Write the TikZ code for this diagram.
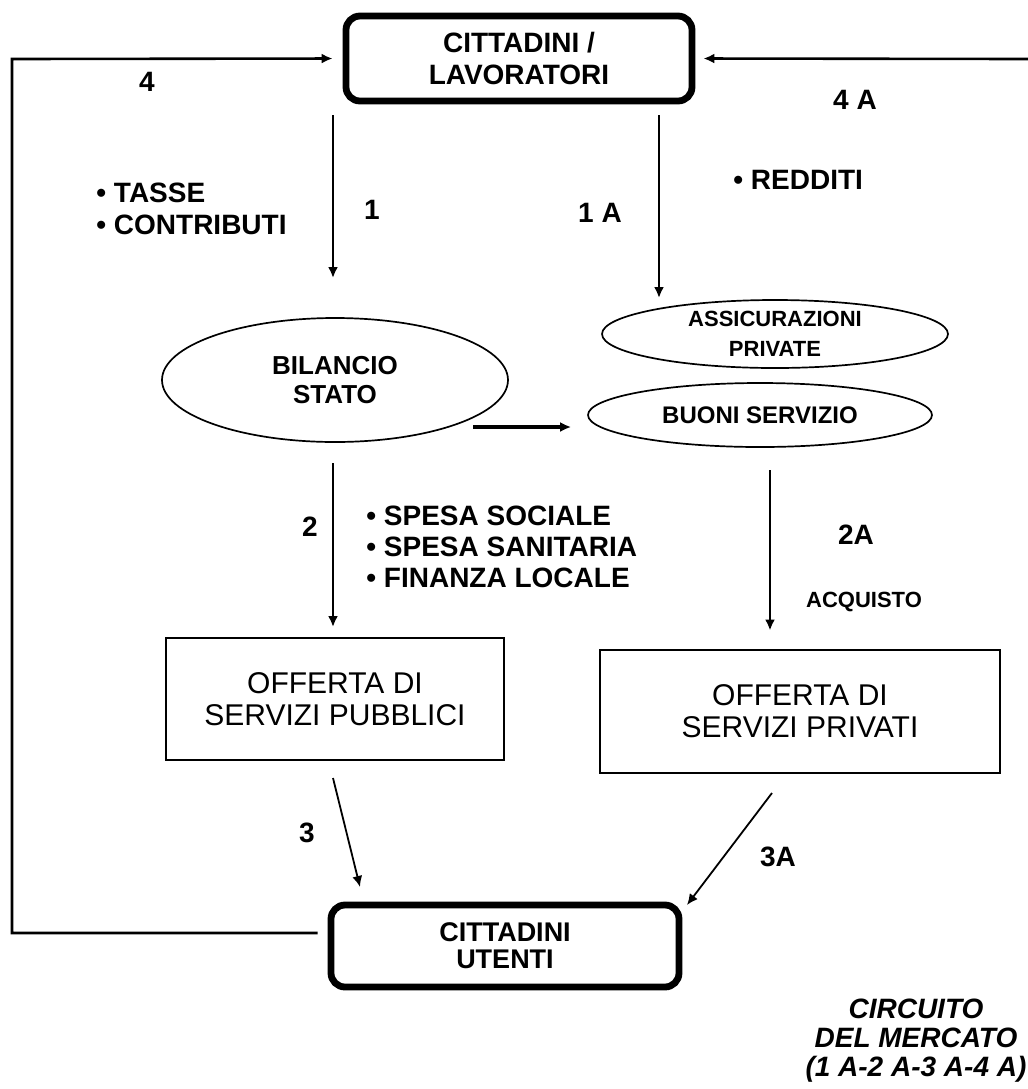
\documentclass[tikz,border=0pt]{standalone}
\usepackage{fontspec}
\setmainfont{Liberation Sans}
\usetikzlibrary{arrows.meta,positioning,shapes.geometric}

\begin{document}
\begin{tikzpicture}[x=0.5pt, y=-0.5pt,
  every node/.style={font=\bfseries\fontsize{14}{15.5}\selectfont, inner sep=0pt},
  arr/.style={-{Latex[length=5.5pt,width=5pt]}, line width=1.3pt},
  mainbox/.style={draw, line width=3.4pt, rounded corners=7pt, align=center},
  offbox/.style={draw, line width=1pt, align=center, font=\fontsize{15}{16}\selectfont},
  fund/.style={draw, ellipse, line width=0.85pt, align=center}]
\useasboundingbox (0,0) rectangle (1028,1089);

% soggetti
\node[mainbox, minimum width=173pt, minimum height=42.5pt, font=\bfseries\fontsize{14}{15.75}\selectfont] (lav) at (519,58.5) {CITTADINI /\\LAVORATORI};
\node[mainbox, minimum width=174pt, minimum height=41pt, font=\bfseries\fontsize{13.5}{13.5}\selectfont] (ute) at (505,946) {CITTADINI\\UTENTI};

% fondi
\node[fund, minimum width=173pt, minimum height=62pt, font=\bfseries\fontsize{13}{14.5}\selectfont] (bil) at (335,380) {BILANCIO\\STATO};
\node[fund, minimum width=173pt, minimum height=34pt, font=\bfseries\fontsize{11}{15}\selectfont] (ass) at (775,334) {ASSICURAZIONI\\PRIVATE};
\node[fund, minimum width=172pt, minimum height=32pt, font=\bfseries\fontsize{12}{15}\selectfont] (buo) at (760,415) {BUONI SERVIZIO};

% offerta
\node[offbox, minimum width=169pt, minimum height=61pt] (pub) at (335,699) {OFFERTA DI\\SERVIZI PUBBLICI};
\node[offbox, minimum width=200pt, minimum height=61.5pt] (pri) at (800,711) {OFFERTA DI\\SERVIZI PRIVATI};

% punti liberi
\coordinate (lpL) at (12,59);
\coordinate (lpR) at (1028,59);
\coordinate (a1s) at (333,115);
\coordinate (a1e) at (333,278);
\coordinate (a1As) at (659,115);
\coordinate (a1Ae) at (659,298);
\coordinate (bbs) at (473,427);
\coordinate (a2s) at (333,463);
\coordinate (a2As) at (770,470);
\coordinate (a3s) at (333,778);
\coordinate (a3e) at (360,887);
\coordinate (a3As) at (772,793);
\coordinate (a3Ae) at (687,905);

% circuito
\draw[arr, shorten >=5pt] ([xshift=-5pt,yshift=6.5pt]ute.west) -- ([yshift=6.5pt]ute.west -| lpL) -- (lpL) -- (lav.west);
\draw[arr, shorten >=4pt] (lpR) -- (lav.east);
\draw[arr] (a1s) -- (a1e);
\draw[arr] (a1As) -- (a1Ae);
\draw[arr, shorten >=8pt, line width=1.6pt] (bbs) -- (bbs -| buo.west);
\draw[arr, shorten >=5pt] (a2s) -- (a2s |- pub.north);
\draw[arr, shorten >=9pt] (a2As) -- (a2As |- pri.north);
\draw[arr, line width=0.9pt] (a3s) -- (a3e);
\draw[arr, line width=0.9pt] (a3As) -- (a3Ae);

% etichette
\node at (147,82) {4};
\node at (855,100) {4 A};
\node at (372,210) {1};
\node at (600,213) {1 A};
\node[anchor=west, align=left, font=\bfseries\fontsize{14}{16}\selectfont] at (96,209) {• TASSE\\• CONTRIBUTI};
\node[anchor=west] at (733,180) {• REDDITI};
\node at (310,527) {2};
\node[anchor=west, align=left] at (366,547) {• SPESA SOCIALE\\• SPESA SANITARIA\\• FINANZA LOCALE};
\node at (856,535) {2A};
\node[font=\bfseries\fontsize{11}{13}\selectfont] at (864,602) {ACQUISTO};
\node at (307,833) {3};
\node at (778,857) {3A};
\node[align=center, font=\bfseries\itshape\fontsize{14}{14.5}\selectfont] at (916,1041) {CIRCUITO\\DEL MERCATO\\(1 A-2 A-3 A-4 A)};
\end{tikzpicture}
\end{document}
